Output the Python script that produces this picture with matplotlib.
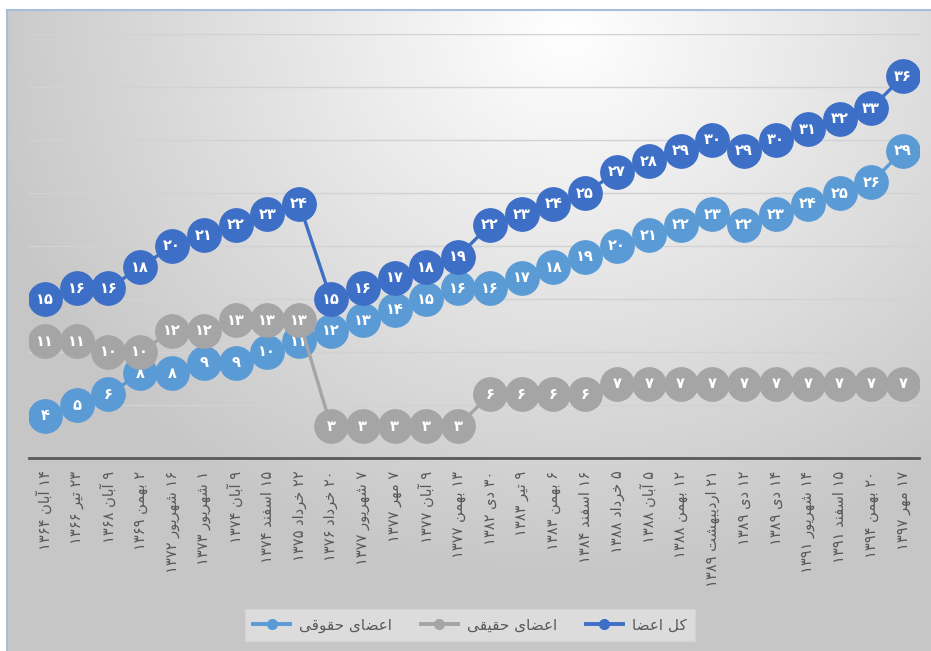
import numpy as np
import matplotlib
matplotlib.use('Agg')
import matplotlib.pyplot as plt
from matplotlib.lines import Line2D

dates = ['۱۴ آبان ۱۳۶۴', '۲۳ تیر ۱۳۶۶', '۹ آبان ۱۳۶۸', '۲ بهمن ۱۳۶۹',
         '۱۶ شهریور ۱۳۷۲', '۱ شهریور ۱۳۷۳', '۹ آبان ۱۳۷۴', '۱۵ اسفند ۱۳۷۴',
         '۲۲ خرداد ۱۳۷۵', '۲۰ خرداد ۱۳۷۶', '۷ شهریور ۱۳۷۷', '۷ مهر ۱۳۷۷',
         '۹ آبان ۱۳۷۷', '۱۳ بهمن ۱۳۷۷', '۳۰ دی ۱۳۸۲', '۹ تیر ۱۳۸۳',
         '۶ بهمن ۱۳۸۳', '۱۶ اسفند ۱۳۸۴', '۵ خرداد ۱۳۸۸', '۵ آبان ۱۳۸۸',
         '۱۲ بهمن ۱۳۸۸', '۲۱ اردیبهشت ۱۳۸۹', '۱۲ دی ۱۳۸۹', '۱۴ دی ۱۳۸۹',
         '۱۴ شهریور ۱۳۹۱', '۱۵ اسفند ۱۳۹۱', '۲۰ بهمن ۱۳۹۴', '۱۷ مهر ۱۳۹۷']

total = [15, 16, 16, 18, 20, 21, 22, 23, 24, 15, 16, 17, 18, 19, 22, 23, 24, 25,
         27, 28, 29, 30, 29, 30, 31, 32, 33, 36]
real = [11, 11, 10, 10, 12, 12, 13, 13, 13, 3, 3, 3, 3, 3, 6, 6, 6, 6,
        7, 7, 7, 7, 7, 7, 7, 7, 7, 7]
legal = [4, 5, 6, 8, 8, 9, 9, 10, 11, 12, 13, 14, 15, 16, 16, 17, 18, 19,
         20, 21, 22, 23, 22, 23, 24, 25, 26, 29]

names = ['کل اعضا', 'اعضای حقیقی', 'اعضای حقوقی']

# simple arabic shaping, matplotlib has no RTL layout
FORMS = {
    'ا': (0xFE8D, 0xFE8E, None, None), 'آ': (0xFE81, 0xFE82, None, None),
    'ب': (0xFE8F, 0xFE90, 0xFE91, 0xFE92), 'ت': (0xFE95, 0xFE96, 0xFE97, 0xFE98),
    'ح': (0xFEA1, 0xFEA2, 0xFEA3, 0xFEA4), 'خ': (0xFEA5, 0xFEA6, 0xFEA7, 0xFEA8),
    'د': (0xFEA9, 0xFEAA, None, None), 'ر': (0xFEAD, 0xFEAE, None, None),
    'ز': (0xFEAF, 0xFEB0, None, None), 'س': (0xFEB1, 0xFEB2, 0xFEB3, 0xFEB4),
    'ش': (0xFEB5, 0xFEB6, 0xFEB7, 0xFEB8), 'ض': (0xFEBD, 0xFEBE, 0xFEBF, 0xFEC0),
    'ع': (0xFEC9, 0xFECA, 0xFECB, 0xFECC), 'ف': (0xFED1, 0xFED2, 0xFED3, 0xFED4),
    'ق': (0xFED5, 0xFED6, 0xFED7, 0xFED8), 'ل': (0xFEDD, 0xFEDE, 0xFEDF, 0xFEE0),
    'م': (0xFEE1, 0xFEE2, 0xFEE3, 0xFEE4), 'ن': (0xFEE5, 0xFEE6, 0xFEE7, 0xFEE8),
    'ه': (0xFEE9, 0xFEEA, 0xFEEB, 0xFEEC), 'و': (0xFEED, 0xFEEE, None, None),
    'ی': (0xFBFC, 0xFBFD, 0xFBFE, 0xFBFF), 'ک': (0xFB8E, 0xFB8F, 0xFB90, 0xFB91),
}


def shape_word(w):
    out = []
    for i, c in enumerate(w):
        if c not in FORMS:
            out.append(c)
            continue
        f = FORMS[c]
        prev = w[i - 1] if i > 0 else None
        nxt = w[i + 1] if i < len(w) - 1 else None
        jp = prev in FORMS and FORMS[prev][2] is not None
        jn = nxt in FORMS and f[2] is not None
        if jp and jn:
            code = f[3]
        elif jp:
            code = f[1]
        elif jn:
            code = f[2]
        else:
            code = f[0]
        out.append(chr(code))
    return ''.join(out)


def rtl(s):
    words = s.split(' ')
    vis = []
    for w in words:
        if any(c in FORMS for c in w):
            vis.append(shape_word(w)[::-1])
        else:
            vis.append(w)
    return ' '.join(vis[::-1])


def fa(n):
    return str(n).translate(str.maketrans('0123456789', '۰۱۲۳۴۵۶۷۸۹'))


plt.rcParams['font.family'] = ['DejaVu Sans']

fig = plt.figure(figsize=(9.31, 6.51), dpi=100)
fig.patch.set_facecolor('white')

# background gradient panel
bg = fig.add_axes([7 / 931, 0, 1 - 7 / 931, 1 - 10 / 651])
yy, xx = np.mgrid[0:640, 0:924]
d = np.sqrt(((xx - 560) / 680.0) ** 2 + ((yy - 20) / 620.0) ** 2)
v = np.clip(1 - 0.25 * d, 0.78, 1.0)
bg.imshow(np.dstack([v, v, v]), aspect='auto', extent=[0, 1, 0, 1], origin='upper')
bg.set_xticks([])
bg.set_yticks([])
for s in ['right', 'bottom']:
    bg.spines[s].set_visible(False)
for s in ['top', 'left']:
    bg.spines[s].set_color('#a9bfd9')
    bg.spines[s].set_linewidth(1.5)

ax = fig.add_axes([29 / 931, 1 - 458 / 651, 890 / 931, 424 / 651])
ax.patch.set_alpha(0)
x = np.arange(len(dates))

ax.set_xlim(-0.5, len(dates) - 0.5)
ax.set_ylim(0, 40)
ax.set_yticks(np.arange(5, 41, 5))
ax.yaxis.grid(True, color='#d2d2d2', linewidth=1)
ax.set_axisbelow(True)
ax.tick_params(axis='y', left=False, labelleft=False)
for s in ['top', 'right', 'left']:
    ax.spines[s].set_visible(False)
ax.spines['bottom'].set_color('#595959')
ax.spines['bottom'].set_linewidth(2)

# drawing order: legal at the bottom, total on top
series = [(legal, '#5b9bd5', names[2]), (real, '#a5a5a5', names[1]), (total, '#3e6fc6', names[0])]
handles = {}
for k, (vals, col, name) in enumerate(series):
    ax.plot(x, vals, color=col, linewidth=2.4, marker='o', markersize=24,
            markeredgecolor=col, zorder=3 + 2 * k)
    for xi, yi in zip(x, vals):
        ax.text(xi, yi, fa(yi), color='white', fontsize=10.5, fontweight='bold',
                ha='center', va='center', zorder=4 + 2 * k)
    handles[name] = Line2D([], [], color=col, linewidth=2.8, marker='o', markersize=7)

ax.set_xticks(x)
ax.set_xticklabels([rtl(d) for d in dates], rotation=90, fontsize=10.5, color='#595959')
ax.tick_params(axis='x', length=0, pad=9)

order = [names[2], names[1], names[0]]
leg = fig.legend([handles[n] for n in order], [rtl(n) for n in order],
                 loc='center', bbox_to_anchor=(470 / 931, 1 - 625 / 651), ncol=3,
                 frameon=True, fontsize=11, handlelength=2.4, columnspacing=1.9,
                 handletextpad=0.6, borderpad=0.55, fancybox=False)
leg.get_frame().set_facecolor('#e2e2e2')
leg.get_frame().set_edgecolor('#d4d4d4')
for t in leg.get_texts():
    t.set_color('#595959')

fig.savefig('out.png', dpi=100)
